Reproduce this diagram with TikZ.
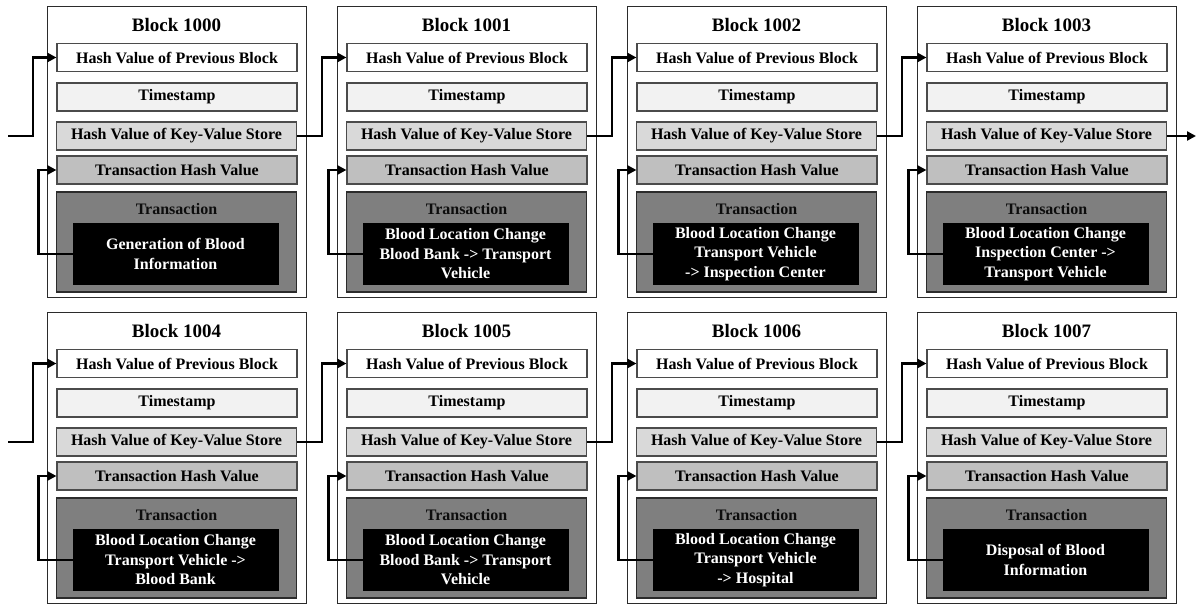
\documentclass[tikz,border=0pt]{standalone}
\usepackage{fontspec}
\setmainfont{Liberation Serif}
\usetikzlibrary{arrows.meta,calc}
\definecolor{tsfill}{HTML}{F2F2F2}
\definecolor{kvfill}{HTML}{D9D9D9}
\definecolor{thfill}{HTML}{BFBFBF}
\definecolor{txfill}{HTML}{7F7F7F}
\definecolor{edge}{HTML}{2B2B2B}
\tikzset{
  blockbox/.style={draw=edge, line width=1.4pt, fill=white, minimum width=259pt, minimum height=291pt, inner sep=0pt},
  titletext/.style={font=\bfseries\fontsize{19}{22}\selectfont, inner sep=0pt},
  field/.style={draw=edge!85, line width=1.1pt, minimum width=240pt, minimum height=28pt, inner sep=0pt, font=\bfseries\fontsize{16}{20}\selectfont, text=black},
  txbox/.style={draw=edge, line width=1.3pt, fill=txfill, minimum width=240pt, minimum height=100pt, inner sep=0pt},
  txlabel/.style={font=\bfseries\fontsize{16}{20}\selectfont, text=black!95, inner sep=0pt},
  eventbox/.style={fill=black, draw=black, minimum width=205pt, minimum height=61pt, inner sep=0pt, align=center, text=white, font=\bfseries\fontsize{16}{19.5}\selectfont},
  chain/.style={line width=2.7pt, -{Triangle[length=9pt,width=9pt]}}
}
\newcommand{\chainblock}[5]{%
  \begin{scope}[shift={(#2,#3)}]
    \node[blockbox, anchor=north west] (#1) at (0,0) {};
    \node[titletext] (#1-title) at (129.5,19) {Block #4};
    \node[field, fill=white] (#1-prev) at (130,51.5) {Hash Value of Previous Block};
    \node[field, fill=tsfill] (#1-ts) at (130,91) {Timestamp};
    \node[field, fill=kvfill] (#1-kv) at (129.5,130) {Hash Value of Key-Value Store};
    \node[field, fill=thfill] (#1-th) at (130,164) {Transaction Hash Value};
    \node[txbox] (#1-tx) at (129.5,236) {};
    \node[txlabel] (#1-txl) at (129.5,203) {Transaction};
    \node[eventbox] (#1-ev) at (128.5,248) {#5};
  \end{scope}
  \draw[chain] (#1-ev.west) -- ++(-34,0) |- (#1-th.west);
}
\begin{document}
\begin{tikzpicture}[x=1pt,y=-1pt]
\useasboundingbox (0,0) rectangle (1200,604);
\chainblock{B0}{47}{6}{1000}{Generation of Blood\\Information}
\chainblock{B1}{337}{6}{1001}{Blood Location Change\\Blood Bank -> Transport\\Vehicle}
\chainblock{B2}{627}{6}{1002}{Blood Location Change\\Transport Vehicle\\-> Inspection Center}
\chainblock{B3}{917}{6}{1003}{Blood Location Change\\Inspection Center ->\\Transport Vehicle}
\chainblock{B4}{47}{312}{1004}{Blood Location Change\\Transport Vehicle ->\\Blood Bank}
\chainblock{B5}{337}{312}{1005}{Blood Location Change\\Blood Bank -> Transport\\Vehicle}
\chainblock{B6}{627}{312}{1006}{Blood Location Change\\Transport Vehicle\\-> Hospital}
\chainblock{B7}{917}{312}{1007}{Disposal of Blood\\Information}
\coordinate (in1) at (8,136);
\coordinate (in2) at (8,442);
\coordinate (out1) at (1196,136);
\draw[chain] (in1) -- (33,136) |- (B0-prev.west);
\draw[chain] (in2) -- (33,442) |- (B4-prev.west);
\draw[chain] (B0-kv.east) -- ++(25,0) |- (B1-prev.west);
\draw[chain] (B1-kv.east) -- ++(25,0) |- (B2-prev.west);
\draw[chain] (B2-kv.east) -- ++(25,0) |- (B3-prev.west);
\draw[chain] (B3-kv.east) -- (out1);
\draw[chain] (B4-kv.east) -- ++(25,0) |- (B5-prev.west);
\draw[chain] (B5-kv.east) -- ++(25,0) |- (B6-prev.west);
\draw[chain] (B6-kv.east) -- ++(25,0) |- (B7-prev.west);
\end{tikzpicture}
\end{document}
